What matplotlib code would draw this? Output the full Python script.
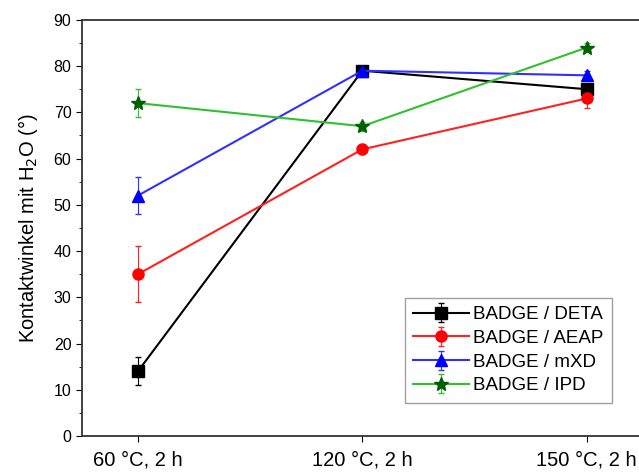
import matplotlib
matplotlib.use("Agg")
import matplotlib.pyplot as plt
from matplotlib.ticker import MultipleLocator

plt.rcParams['font.family'] = ['Liberation Sans', 'DejaVu Sans']

# conditions and contact angles
labels = ['60 °C, 2 h', '120 °C, 2 h', '150 °C, 2 h']
x = [0, 1, 2]

deta = [14, 79, 75]
deta_err = [3, 1, 1]
aeap = [35, 62, 73]
aeap_err = [6, 1, 2]
mxd = [52, 79, 78]
mxd_err = [4, 1, 1]
ipd = [72, 67, 84]
ipd_err = [3, 1, 1]

series = [
    ('BADGE / DETA', deta, deta_err, 'black', 'black', 's'),
    ('BADGE / AEAP', aeap, aeap_err, '#ff2020', 'red', 'o'),
    ('BADGE / mXD', mxd, mxd_err, '#3030ff', 'blue', '^'),
    ('BADGE / IPD', ipd, ipd_err, '#30c030', '#006000', '*'),
]

fig = plt.figure(figsize=(6.39, 4.72), dpi=100)
ax = fig.add_axes([0.128, 0.076, 0.878, 0.882])

for name, y, err, lc, mc, m in series:
    ms = 10 if m == '*' else 8
    ax.errorbar(x, y, yerr=err, color=lc, ecolor=lc, elinewidth=0.8, capsize=2,
                marker=m, markersize=ms, markerfacecolor=mc, markeredgecolor=mc,
                linewidth=1.5, label=name)

ax.set_xlim(-0.25, 2.25)
ax.set_ylim(0, 90)
ax.set_xticks(x)
ax.set_xticklabels(labels, fontsize=14.5)
ax.yaxis.set_major_locator(MultipleLocator(10))
ax.yaxis.set_minor_locator(MultipleLocator(5))
ax.tick_params(axis='y', labelsize=11.5, direction='out', length=4)
ax.tick_params(axis='y', which='minor', direction='out', length=2.5)
ax.tick_params(axis='x', direction='out', length=4, pad=6)
ax.set_ylabel('Kontaktwinkel mit H$_2$O (°)', fontsize=14.5, labelpad=10)
for s in ax.spines.values():
    s.set_linewidth(1.3)
    s.set_color('#333333')

leg = ax.legend(loc='lower right', bbox_to_anchor=(0.945, 0.08), fontsize=13.5,
                fancybox=False, edgecolor='#888888', handlelength=3.0,
                borderpad=0.45, labelspacing=0.35, handletextpad=0.2,
                borderaxespad=0)
leg.get_frame().set_linewidth(1.0)

fig.savefig('out.png', dpi=100)
